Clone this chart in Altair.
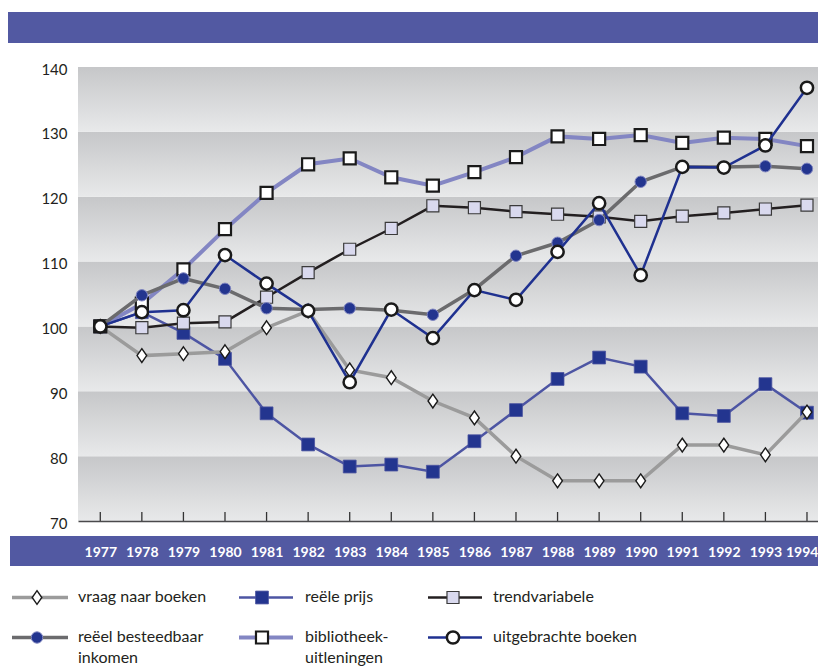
import altair as alt
import pandas as pd

years = list(range(1977, 1995))

series_names = [
    "reële prijs",
    "vraag naar boeken",
    "trendvariabele",
    "bibliotheek-uitleningen",
    "reëel besteedbaar inkomen",
    "uitgebrachte boeken",
]

vraag = [100, 95.5, 95.8, 96.1, 99.8, 102.4, 93.3, 92.1, 88.5, 85.9, 80.0, 76.2, 76.2, 76.2, 81.7, 81.7, 80.2, 86.8]
prijs = [100, 102.2, 99.0, 95.0, 86.6, 81.8, 78.4, 78.7, 77.6, 82.3, 87.1, 91.9, 95.2, 93.8, 86.6, 86.2, 91.1, 86.7]
trend = [100, 99.8, 100.5, 100.7, 104.5, 108.3, 111.9, 115.1, 118.6, 118.3, 117.7, 117.3, 116.9, 116.2, 117.0, 117.5, 118.1, 118.7]
inkomen = [100, 104.8, 107.4, 105.8, 102.8, 102.6, 102.8, 102.5, 101.8, 105.7, 110.9, 112.9, 116.4, 122.3, 124.6, 124.6, 124.7, 124.3]
bib = [100, 103.5, 108.8, 115.0, 120.6, 125.0, 125.9, 123.0, 121.7, 123.8, 126.1, 129.3, 128.9, 129.5, 128.3, 129.1, 128.9, 127.8]
uitg = [100, 102.2, 102.5, 111.0, 106.6, 102.4, 91.4, 102.6, 98.2, 105.6, 104.1, 111.5, 119.0, 107.9, 124.6, 124.5, 127.9, 136.8]

y_ticks = [70, 80, 90, 100, 110, 120, 130, 140]
band_lo = [70, 80, 90, 100, 110, 120, 130]

W, H = 740, 454
FONT = "Lato"
TXT = "#231f20"
BLUE_BAND = "#5259a2"
DIAMOND = "M0,-1L0.7,0L0,1L-0.7,0Z"

last_year = "datum.value == 1994"
x_axis = alt.Axis(values=years, format="d", title=None, ticks=False, grid=False,
                  labelColor="white", labelFont=FONT, labelFontWeight="bold",
                  labelFontSize=14, labelPadding=31, labelBaseline="middle",
                  labelAlign={"condition": {"test": last_year, "value": "right"}, "value": "center"},
                  labelOffset={"condition": {"test": last_year, "value": 11}, "value": 0},
                  labelOverlap=False, labelFlush=False,
                  domainColor="#4a4a4c", domainWidth=1.5, zindex=1)
y_axis = alt.Axis(values=y_ticks, title=None, ticks=False, grid=False, domain=False,
                  labelColor=TXT, labelFont=FONT, labelFontSize=15, labelPadding=11,
                  labelBaseline="middle", labelOffset=2)

X = alt.X("year:Q", scale=alt.Scale(domain=[1976.464, 1994.265], nice=False, zero=False), axis=x_axis)
Y = alt.Y("value:Q", scale=alt.Scale(domain=[70, 140], nice=False, zero=False), axis=y_axis)

one = pd.DataFrame({"k": [0]})

# background gradient bands
bands_df = pd.DataFrame({"lo": band_lo, "hi": [b + 10 for b in band_lo]})
bands = alt.Chart(bands_df).mark_rect(
    color={"gradient": "linear", "x1": 0, "y1": 0, "x2": 0, "y2": 1,
           "stops": [{"offset": 0, "color": "#c6c7c9"}, {"offset": 1, "color": "#e8e9ea"}]}
).encode(
    x=alt.value(0), x2=alt.value(W),
    y=alt.Y("hi:Q", scale=alt.Scale(domain=[70, 140], nice=False, zero=False), axis=y_axis),
    y2="lo:Q",
)

header = alt.Chart(one).mark_rect(color=BLUE_BAND).encode(
    x=alt.value(-70), x2=alt.value(W), y=alt.value(-55), y2=alt.value(-24))
footer = alt.Chart(one).mark_rect(color=BLUE_BAND).encode(
    x=alt.value(-68), x2=alt.value(W), y=alt.value(469), y2=alt.value(499))

ticks = alt.Chart(pd.DataFrame({"year": years})).mark_rule(color="#333333", strokeWidth=1.3).encode(
    x=X, y=alt.value(445), y2=alt.value(454))

styles = {
    "reële prijs": dict(vals=prijs, lc="#4d55a3", lw=2.5, shape="square", size=165,
                        fill="#23358f", stroke="#4a53a0", sw=0.8),
    "vraag naar boeken": dict(vals=vraag, lc="#9b9b9b", lw=3.5, shape=DIAMOND, size=190,
                              fill="white", stroke="#1a1a1a", sw=1.4),
    "trendvariabele": dict(vals=trend, lc="#231f20", lw=2.5, shape="square", size=145,
                           fill="#d9d9ee", stroke="#3a3a3a", sw=1.2),
    "bibliotheek-uitleningen": dict(vals=bib, lc="#8386c3", lw=4, shape="square", size=145,
                                    fill="white", stroke="#1a1a1a", sw=2.2),
    "reëel besteedbaar inkomen": dict(vals=inkomen, lc="#6b6b6d", lw=3.5, shape="circle", size=130,
                                      fill="#23358f", stroke="#7e84c0", sw=1),
    "uitgebrachte boeken": dict(vals=uitg, lc="#1f3190", lw=2.5, shape="circle", size=150,
                                fill="white", stroke="#1a1a1a", sw=2.5),
}

layers = [bands, header, footer, ticks]
for name in series_names:
    s = styles[name]
    d = pd.DataFrame({"year": years, "value": s["vals"]})
    layers.append(alt.Chart(d).mark_line(color=s["lc"], strokeWidth=s["lw"]).encode(x=X, y=Y))
    layers.append(alt.Chart(d).mark_point(shape=s["shape"], size=s["size"], filled=True,
                                          fill=s["fill"], stroke=s["stroke"],
                                          strokeWidth=s["sw"], opacity=1).encode(x=X, y=Y))

# legend
legend_items = [
    ("vraag naar boeken", ["vraag naar boeken"], -66, -10, -41, 0, 530.5),
    ("reële prijs", ["reële prijs"], 161, 215, 184, 227, 530.5),
    ("trendvariabele", ["trendvariabele"], 350, 404, 375, 415, 530.5),
    ("reëel besteedbaar inkomen", ["reëel besteedbaar", "inkomen"], -66, -10, -41, 0, 570.5),
    ("bibliotheek-uitleningen", ["bibliotheek-", "uitleningen"], 161, 215, 184, 227, 570.5),
    ("uitgebrachte boeken", ["uitgebrachte boeken"], 350, 404, 375, 415, 570.5),
]
for name, lines, x0, x1, mx, tx, yy in legend_items:
    s = styles[name]
    layers.append(alt.Chart(one).mark_rule(color=s["lc"], strokeWidth=s["lw"]).encode(
        x=alt.value(x0), x2=alt.value(x1), y=alt.value(yy)))
    layers.append(alt.Chart(one).mark_point(shape=s["shape"], size=s["size"], filled=True,
                                            fill=s["fill"], stroke=s["stroke"],
                                            strokeWidth=s["sw"], opacity=1).encode(
        x=alt.value(mx), y=alt.value(yy)))
    for i, ln in enumerate(lines):
        layers.append(alt.Chart(one).mark_text(align="left", baseline="middle", font=FONT,
                                               fontSize=16, color=TXT).encode(
            x=alt.value(tx), y=alt.value(yy - 1 + i * 21.6), text=alt.value(ln)))

chart = alt.layer(*layers).properties(
    width=W, height=H, autosize="none",
    padding={"left": 70, "top": 59, "right": 0, "bottom": 152},
).configure_view(stroke=None)

chart.save("out.html", embed_options={"renderer": "svg", "actions": False})
